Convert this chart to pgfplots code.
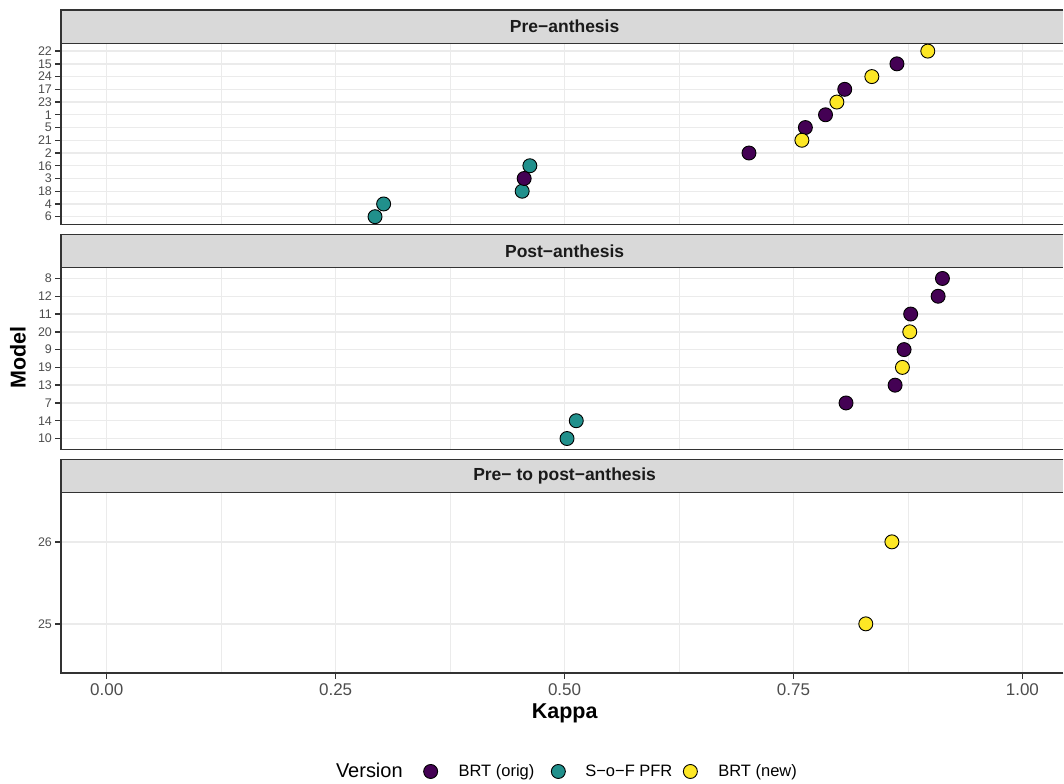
\documentclass[border=0pt]{standalone}
\usepackage{fontspec}
\setmainfont{Liberation Sans}
\usepackage{pgfplots}
\pgfplotsset{compat=1.18}
\definecolor{vpurple}{HTML}{440154}
\definecolor{vteal}{HTML}{21908C}
\definecolor{vyellow}{HTML}{FDE725}
\definecolor{gridc}{HTML}{EBEBEB}
\definecolor{borderc}{HTML}{333333}
\definecolor{stripc}{HTML}{D9D9D9}
\definecolor{tickc}{HTML}{4D4D4D}
\definecolor{titlec}{HTML}{1A1A1A}
\pgfplotsset{
  facet/.style={
    scale only axis, width=1003pt, xmin=-0.05, xmax=1.0447,
    anchor=south west,
    xtick={0,0.25,0.5,0.75,1},
    xticklabels={0.00,0.25,0.50,0.75,1.00},
    minor xtick={0.125,0.375,0.625,0.875},
    xmajorgrids=true, xminorgrids=true, ymajorgrids=true,
    major grid style={draw=gridc, line width=1.4pt},
    minor grid style={draw=gridc, line width=0.7pt},
    axis line style={draw=none},
    tick align=outside, tick pos=left,
    major tick length=5.5pt, minor tick length=0pt,
    tick style={draw=borderc, line width=1.4pt},
    yticklabel style={font=\fontsize{12.5}{14}\selectfont, text=tickc},
    xticklabel style={font=\fontsize{17}{20}\selectfont, text=tickc, yshift=-2pt},
    ymin=0.4, clip=false,
  },
  pt/.style={only marks, mark=*, mark size=7pt, mark options={draw=black, fill=#1, line width=0.9pt}},
  dotlegend/.style={legend image code/.code={\draw[##1] plot coordinates {(0pt,0pt)};}},
}
\newcommand{\frameit}{\draw[borderc, line width=1.3pt] (rel axis cs:1,0) -- (rel axis cs:0,0) -- (rel axis cs:0,1) -- (rel axis cs:1,1);}
\newcommand{\strip}[3]{% bottom, top, text
  \fill[stripc] (61pt,#1) rectangle (1064pt,#2);
  \draw[borderc, line width=1.3pt] (1064pt,#2) -- (61pt,#2) -- (61pt,#1) -- (1064pt,#1);
  \node[font=\fontsize{17.5}{20}\selectfont\bfseries, text=titlec, inner sep=0pt] at (565pt,{0.5*(#1+#2)}) {#3};
}
\begin{document}
\begin{tikzpicture}[x=1pt,y=1pt]
\path (0,0) rectangle (1064,784);
% Panel 1: Pre-anthesis
\begin{axis}[facet, at={(61pt,559.5pt)}, height=181pt, ymax=14.6,
  ytick={1,...,14}, yticklabels={6,4,18,3,16,2,21,5,1,23,17,24,15,22},
  xticklabels={}, xtick style={draw=none}]
\addplot[pt=vteal] coordinates {(0.4621,5) (0.4537,3) (0.3024,2) (0.293,1)};
\addplot[pt=vpurple] coordinates {(0.863,13) (0.806,11) (0.785,9) (0.763,8) (0.7014,6) (0.4559,4)};
\addplot[pt=vyellow] coordinates {(0.8967,14) (0.8356,12) (0.7974,10) (0.7592,7)};
\frameit
\end{axis}
% Panel 2: Post-anthesis
\begin{axis}[facet, at={(61pt,334.5pt)}, height=181.5pt, ymax=10.6,
  ytick={1,...,10}, yticklabels={10,14,7,13,19,9,20,11,12,8},
  xticklabels={}, xtick style={draw=none}]
\addplot[pt=vpurple] coordinates {(0.9127,10) (0.908,9) (0.878,8) (0.8708,6) (0.861,4) (0.8074,3)};
\addplot[pt=vteal] coordinates {(0.5128,2) (0.5027,1)};
\addplot[pt=vyellow] coordinates {(0.877,7) (0.869,5)};
\frameit
\end{axis}
% Panel 3: Pre- to post-anthesis
\begin{axis}[facet, at={(61pt,110.5pt)}, height=180.5pt, ymax=2.6,
  ytick={1,2}, yticklabels={25,26},
  legend columns=-1,
  legend style={at={(0.2742,-0.5457)}, anchor=west, draw=none, fill=none,
    inner sep=0pt, nodes={inner sep=0pt, text=black},
    font=\fontsize{16.5}{20}\selectfont,
    /tikz/column sep=0pt,
    /tikz/column 2/.style={column sep=21pt},
    /tikz/column 3/.style={column sep=21pt},
    /tikz/column 4/.style={column sep=17pt},
    /tikz/column 5/.style={column sep=20pt},
    /tikz/column 6/.style={column sep=11pt},
    /tikz/column 7/.style={column sep=21pt}},
  ]
\addlegendimage{empty legend}
\addlegendentry{\fontsize{20}{24}\selectfont Version}
\addlegendimage{pt=vpurple, dotlegend}
\addlegendentry{BRT (orig)}
\addlegendimage{pt=vteal, dotlegend}
\addlegendentry{S−o−F PFR}
\addlegendimage{pt=vyellow, dotlegend}
\addlegendentry{BRT (new)}
\addplot[pt=vyellow, forget plot] coordinates {(0.8575,2) (0.829,1)};
\frameit
\end{axis}
\strip{740.5}{774}{Pre−anthesis}
\strip{516}{549}{Post−anthesis}
\strip{291}{324}{Pre− to post−anthesis}
\node[font=\fontsize{21.5}{25}\selectfont\bfseries, inner sep=0pt] at (565,70) {Kappa};
\node[font=\fontsize{21.5}{25}\selectfont\bfseries, inner sep=0pt, rotate=90] at (18,426) {Model};
\end{tikzpicture}
\end{document}
